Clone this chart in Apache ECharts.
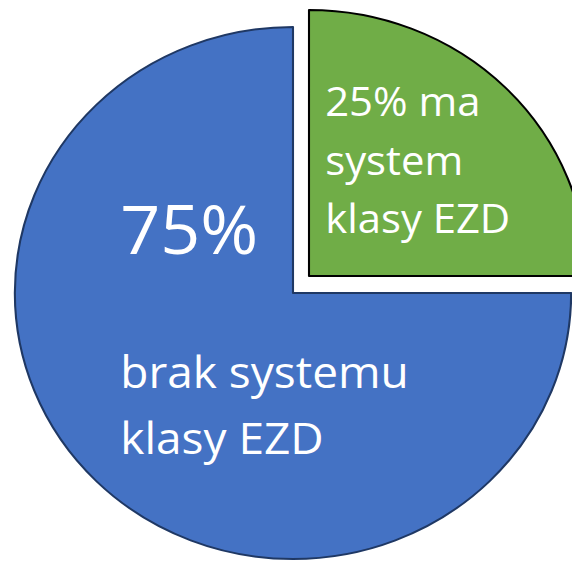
<!DOCTYPE html>
<html>
<head>
<meta charset="utf-8">
<script src="https://cdn.jsdelivr.net/npm/echarts@6/dist/echarts.min.js"></script>
<style>
  html, body { margin: 0; padding: 0; background: #ffffff; overflow: hidden; }
  #wrap { width: 572px; height: 562px; overflow: hidden; position: relative; }
  #chart { width: 547px; height: 562px; transform: scaleX(1.0457); transform-origin: 0 0; position: absolute; left: 0; top: 0; }
</style>
</head>
<body>
<div id="wrap"><div id="chart"></div></div>
<script>
// Data
const categories = ['ma system klasy EZD', 'brak systemu klasy EZD'];
const values = [25, 75];
const greenLines = ['ma', 'system', 'klasy EZD'];
const blueLines = ['brak systemu', 'klasy EZD'];
const colors = ['#70AD47', '#4472C4'];
const borderColors = ['#000000', '#1F3864'];

const SX = 1.0457;
const FONT = '"Open Sans", "Noto Sans", sans-serif';
const CX = 293 / SX, CY = 293;
const EXPLODE = [16 / SX, -17];

const chart = echarts.init(document.getElementById('chart'), null, { renderer: 'svg' });

function makeData(visibleIndex) {
  return categories.map((name, i) => {
    if (i !== visibleIndex) {
      return {
        name: name, value: values[i],
        itemStyle: { color: 'rgba(0,0,0,0)', borderWidth: 0 },
        label: { show: false }
      };
    }
    return {
      name: name, value: values[i],
      itemStyle: { color: colors[i], borderColor: borderColors[i], borderWidth: 2 }
    };
  });
}

const rich = {
  g: { fontSize: 40, lineHeight: 58.5, color: '#ffffff', fontFamily: FONT },
  big: { fontSize: 67, lineHeight: 80, color: '#ffffff', fontFamily: FONT },
  gap: { fontSize: 10, lineHeight: 70, color: '#ffffff', fontFamily: FONT },
  b: { fontSize: 44, lineHeight: 66, color: '#ffffff', fontFamily: FONT }
};

function fmt(p) {
  const pct = Math.round(p.percent) + '%';
  if (p.dataIndex === 0) {
    return '{g|' + pct + ' ' + greenLines[0] + '}\n{g|' + greenLines[1] + '}\n{g|' + greenLines[2] + '}';
  }
  return '{big|' + pct + '}\n{gap| }\n' + blueLines.map(t => '{b|' + t + '}').join('\n');
}

function baseSeries(visibleIndex, center, labelPos) {
  return {
    type: 'pie',
    center: center,
    radius: [0, 266],
    startAngle: 90,
    clockwise: true,
    avoidLabelOverlap: false,
    silent: true,
    emphasis: { disabled: true, scale: false },
    data: makeData(visibleIndex),
    label: {
      show: true,
      position: 'inside',
      color: '#ffffff',
      fontFamily: FONT,
      formatter: fmt,
      rich: rich
    },
    labelLine: { show: false },
    labelLayout: function () {
      return { x: labelPos[0], y: labelPos[1], align: 'left', verticalAlign: 'top' };
    }
  };
}

chart.setOption({
  animation: false,
  backgroundColor: '#ffffff',
  series: [
    baseSeries(1, [CX, CY], [115, 188]),
    baseSeries(0, [CX + EXPLODE[0], CY + EXPLODE[1]], [311, 71.5])
  ]
});
</script>
</body>
</html>
